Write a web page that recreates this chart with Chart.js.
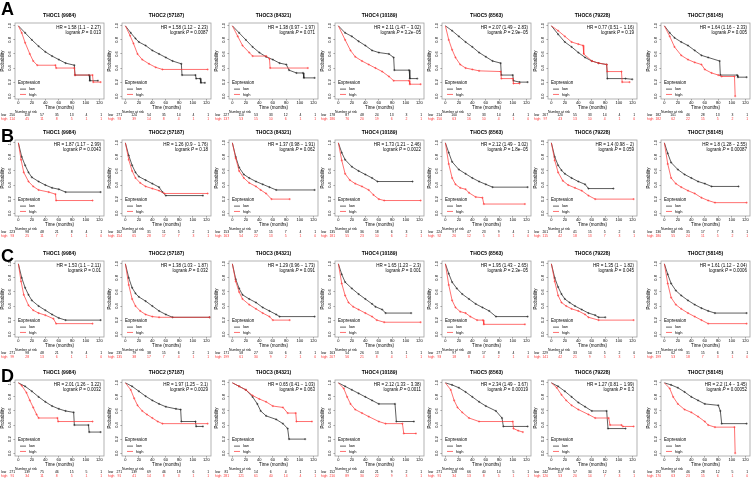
<!DOCTYPE html>
<html>
<head>
<meta charset="utf-8">
<script src="https://cdn.jsdelivr.net/npm/chart.js@4.4.1/dist/chart.umd.min.js"></script>
<style>
  body { margin: 0; background: #fff; }
  #fig { position: relative; width: 753px; height: 483px; overflow: hidden; background: #fff;
         font-family: "Liberation Sans", Arial, sans-serif; }
  #fig canvas { position: absolute; }
  .letter { position: absolute; font-weight: bold; font-size: 18px; line-height: 18px; z-index: 2; }
</style>
</head>
<body>
<div id="fig"></div>
<script>
// Kaplan-Meier grid: 4 rows (A-D) x 7 genes (THOC1..THOC7)

const FONT = '"Liberation Sans", Arial, sans-serif';

const titles = ['THOC1 (9984)', 'THOC2 (57187)', 'THOC3 (84321)', 'THOC4 (10189)',
                'THOC5 (8563)', 'THOC6 (79228)', 'THOC7 (58145)'];
const xTicks = [0, 20, 40, 60, 80, 100, 120];
const yTicks = [0, 0.2, 0.4, 0.6, 0.8, 1];

// ---- row A ----
const hrA = ['HR = 1.58 (1.1 − 2.27)', 'HR = 1.58 (1.12 − 2.23)', 'HR = 1.38 (0.97 − 1.97)', 'HR = 2.11 (1.47 − 3.02)',
             'HR = 2.07 (1.49 − 2.83)', 'HR = 0.77 (0.51 − 1.16)', 'HR = 1.64 (1.16 − 2.33)'];
const pA = ['0.013', '0.0087', '0.071', '3.2e−05', '2.9e−05', '0.19', '0.005'];
const lowA = [
  [[0,1],[10,0.9],[20,0.8],[30,0.71],[40,0.63],[50,0.57],[60,0.52],[70,0.47],[83,0.44],[84,0.3],[105,0.3],[106,0.22],[118,0.22]],
  [[0,1],[8,0.9],[15,0.82],[20,0.77],[30,0.72],[40,0.65],[50,0.6],[60,0.55],[70,0.5],[83,0.46],[84,0.3],[104,0.3],[105,0.25],[111,0.25],[112,0.19],[118,0.19]],
  [[0,1],[10,0.9],[20,0.8],[30,0.7],[40,0.62],[50,0.56],[60,0.52],[70,0.47],[80,0.45],[84,0.37],[95,0.33],[105,0.33],[106,0.26],[122,0.26]],
  [[0,1],[10,0.9],[20,0.85],[30,0.78],[40,0.72],[50,0.65],[60,0.62],[75,0.6],[82,0.55],[83,0.37],[105,0.37],[106,0.25],[117,0.25]],
  [[0,1],[10,0.93],[20,0.85],[30,0.77],[40,0.7],[50,0.62],[60,0.56],[70,0.5],[82,0.47],[83,0.3],[100,0.3],[101,0.22],[110,0.2],[122,0.2]],
  [[0,1],[10,0.88],[20,0.77],[30,0.7],[40,0.62],[50,0.55],[60,0.5],[70,0.47],[82,0.45],[83,0.25],[110,0.25],[120,0.24]],
  [[0,1],[8,0.9],[15,0.83],[25,0.77],[35,0.72],[45,0.65],[55,0.58],[65,0.55],[82,0.5],[83,0.3],[108,0.3],[109,0.27],[122,0.27]]
];
const highA = [
  [[0,1],[5,0.9],[10,0.76],[17,0.6],[22,0.5],[28,0.44],[55,0.44],[56,0.4],[83,0.4],[84,0.3],[110,0.3],[111,0.2],[122,0.2]],
  [[0,1],[7,0.86],[12,0.75],[18,0.6],[25,0.52],[35,0.46],[45,0.41],[55,0.38],[122,0.38]],
  [[0,1],[8,0.85],[15,0.72],[25,0.62],[30,0.57],[50,0.57],[55,0.53],[56,0.4],[112,0.4]],
  [[0,1],[10,0.8],[18,0.65],[25,0.56],[35,0.5],[45,0.45],[55,0.4],[65,0.35],[75,0.28],[82,0.22],[105,0.22],[106,0.17],[122,0.17]],
  [[0,1],[5,0.8],[10,0.66],[15,0.55],[22,0.45],[30,0.4],[40,0.38],[50,0.36],[82,0.35],[83,0.25],[100,0.25],[101,0.18],[110,0.18]],
  [[0,1],[10,0.93],[20,0.85],[30,0.77],[40,0.74],[47,0.72],[48,0.6],[60,0.5],[70,0.47],[82,0.45],[83,0.35],[104,0.35],[105,0.2],[116,0.2]],
  [[0,1],[8,0.85],[15,0.7],[25,0.58],[35,0.52],[45,0.48],[55,0.45],[60,0.38],[70,0.33],[80,0.3],[85,0.28],[104,0.28],[105,0]]
];
const riskLowA = [[250,118,57,35,13,4,1],[271,124,54,35,14,4,1],[227,110,53,33,12,4,1],[178,87,48,24,13,3,1],
                  [214,100,52,33,14,4,1],[267,120,55,33,14,4,1],[182,101,46,28,13,3,1]];
const riskHighA = [[114,45,11,8,5,1,1],[93,39,14,8,4,1,1],[137,53,15,10,6,1,1],[186,76,20,19,6,2,1],
                   [150,63,16,10,4,1,0],[97,43,13,10,4,1,0],[182,62,22,15,5,2,1]];

// ---- row B ----
const hrB = ['HR = 1.87 (1.17 − 2.99)', 'HR = 1.26 (0.9 − 1.76)', 'HR = 1.37 (0.98 − 1.91)', 'HR = 1.73 (1.21 − 2.46)',
             'HR = 2.12 (1.49 − 3.02)', 'HR = 1.4 (0.98 − 2)', 'HR = 1.8 (1.28 − 2.55)'];
const pB = ['0.0043', '0.18', '0.062', '0.0022', '1.8e−05', '0.059', '0.00087'];
const lowB = [
  [[0,1],[5,0.8],[10,0.68],[15,0.58],[20,0.51],[30,0.45],[40,0.4],[50,0.36],[60,0.34],[70,0.3],[122,0.3]],
  [[0,1],[5,0.82],[10,0.68],[15,0.58],[20,0.52],[30,0.47],[40,0.42],[50,0.37],[55,0.3],[60,0.25],[115,0.25]],
  [[0,1],[5,0.8],[10,0.65],[17,0.55],[25,0.5],[35,0.45],[45,0.41],[55,0.37],[65,0.33],[122,0.33]],
  [[0,1],[5,0.86],[10,0.76],[20,0.66],[30,0.6],[40,0.55],[50,0.5],[58,0.45],[110,0.45]],
  [[0,1],[5,0.86],[10,0.73],[20,0.62],[30,0.56],[40,0.5],[50,0.45],[60,0.41],[70,0.37],[122,0.37]],
  [[0,1],[5,0.8],[10,0.68],[15,0.61],[20,0.56],[30,0.5],[40,0.45],[50,0.41],[55,0.35],[92,0.35]],
  [[0,1],[5,0.85],[10,0.72],[20,0.62],[30,0.55],[40,0.5],[50,0.45],[60,0.42],[70,0.38],[110,0.38]]
];
const highB = [
  [[0,1],[4,0.76],[8,0.58],[15,0.45],[22,0.38],[30,0.33],[45,0.3],[55,0.27],[56,0.18],[110,0.18]],
  [[0,1],[5,0.76],[10,0.6],[15,0.5],[22,0.43],[30,0.38],[40,0.35],[50,0.32],[58,0.28],[122,0.28]],
  [[0,1],[5,0.78],[10,0.6],[17,0.5],[25,0.43],[35,0.38],[42,0.33],[50,0.28],[58,0.2],[85,0.2]],
  [[0,1],[5,0.75],[10,0.56],[17,0.47],[25,0.42],[35,0.38],[45,0.33],[52,0.26],[60,0.2],[68,0.18],[122,0.18]],
  [[0,1],[5,0.7],[10,0.5],[15,0.41],[22,0.36],[30,0.34],[35,0.29],[45,0.23],[55,0.22],[57,0.13],[118,0.13]],
  [[0,1],[5,0.75],[10,0.58],[17,0.46],[25,0.4],[35,0.36],[45,0.32],[55,0.25],[65,0.2],[122,0.2]],
  [[0,1],[5,0.7],[10,0.5],[17,0.42],[25,0.37],[35,0.32],[45,0.28],[55,0.22],[65,0.18],[75,0.15],[122,0.15]]
];
const riskLowB = [[223,98,48,21,8,4,1],[162,58,31,11,5,2,1],[153,69,37,15,7,4,1],[135,68,36,18,6,3,1],
                  [224,97,47,23,9,4,1],[201,81,41,15,5,2,0],[136,68,35,17,7,3,1]];
const riskHighB = [[93,25,11,7,1,1,0],[154,65,28,17,7,3,1],[163,54,22,13,5,1,0],[181,55,23,10,6,2,1],
                   [92,26,12,5,3,1,0],[115,42,18,13,7,3,1],[180,55,24,11,5,2,1]];

// ---- row C ----
const hrC = ['HR = 1.53 (1.1 − 2.11)', 'HR = 1.38 (1.03 − 1.87)', 'HR = 1.29 (0.96 − 1.73)', 'HR = 1.65 (1.23 − 2.3)',
             'HR = 1.95 (1.43 − 2.65)', 'HR = 1.35 (1 − 1.82)', 'HR = 1.61 (1.12 − 2.04)'];
const pC = ['0.01', '0.032', '0.091', '0.001', '2.3e−05', '0.045', '0.0006'];
const lowC = [
  [[0,1],[5,0.8],[10,0.66],[15,0.56],[20,0.48],[30,0.4],[40,0.34],[50,0.28],[60,0.23],[70,0.2],[122,0.2]],
  [[0,1],[5,0.8],[10,0.66],[15,0.58],[20,0.53],[30,0.47],[40,0.4],[50,0.33],[60,0.28],[70,0.24],[125,0.24]],
  [[0,1],[5,0.78],[10,0.65],[15,0.56],[25,0.5],[35,0.45],[45,0.38],[55,0.33],[65,0.28],[70,0.25],[122,0.25]],
  [[0,1],[5,0.85],[10,0.74],[20,0.65],[30,0.57],[40,0.5],[50,0.43],[55,0.39],[65,0.35],[70,0.3],[108,0.3]],
  [[0,1],[5,0.86],[10,0.74],[17,0.65],[25,0.57],[35,0.5],[45,0.43],[55,0.38],[65,0.33],[75,0.25],[122,0.25]],
  [[0,1],[5,0.8],[10,0.67],[15,0.57],[20,0.5],[27,0.45],[35,0.4],[45,0.35],[55,0.3],[65,0.27],[70,0.24],[80,0.24]],
  [[0,1],[5,0.85],[10,0.72],[17,0.62],[25,0.55],[35,0.48],[45,0.42],[55,0.37],[65,0.33],[75,0.3],[122,0.3]]
];
const highC = [
  [[0,1],[4,0.75],[8,0.56],[15,0.41],[22,0.34],[30,0.3],[40,0.27],[52,0.22],[56,0.15],[110,0.15]],
  [[0,1],[5,0.7],[10,0.5],[15,0.4],[22,0.33],[30,0.28],[40,0.25],[50,0.24],[125,0.24]],
  [[0,1],[5,0.75],[10,0.6],[15,0.5],[25,0.42],[35,0.36],[45,0.3],[55,0.25],[60,0.2],[85,0.2]],
  [[0,1],[5,0.72],[10,0.55],[15,0.45],[22,0.39],[30,0.35],[40,0.3],[50,0.25],[57,0.2],[68,0.17],[122,0.17]],
  [[0,1],[5,0.7],[10,0.48],[15,0.38],[22,0.32],[30,0.3],[37,0.25],[47,0.2],[56,0.2],[57,0.14],[118,0.14]],
  [[0,1],[5,0.75],[10,0.55],[15,0.45],[22,0.4],[30,0.36],[40,0.33],[50,0.28],[55,0.24],[70,0.2],[122,0.2]],
  [[0,1],[5,0.72],[10,0.52],[17,0.42],[25,0.36],[35,0.3],[45,0.25],[55,0.2],[65,0.15],[122,0.15]]
];
const riskLowC = [[271,98,48,21,9,4,1],[235,79,38,15,6,2,1],[171,58,27,10,6,3,1],[163,54,26,13,5,1,1],
                  [277,97,48,17,8,4,1],[229,73,33,14,5,2,0],[171,62,31,15,6,3,1]];
const riskHighC = [[99,28,13,6,1,1,0],[135,38,17,7,4,1,1],[199,61,30,9,2,1,0],[207,56,21,8,4,1,1],
                   [93,18,8,4,2,1,0],[141,42,21,9,5,3,1],[199,53,18,7,3,1,0]];

// ---- row D ----
const hrD = ['HR = 2.01 (1.26 − 3.22)', 'HR = 1.97 (1.25 − 3.1)', 'HR = 0.65 (0.41 − 1.03)', 'HR = 2.12 (1.33 − 3.38)',
             'HR = 2.34 (1.49 − 3.67)', 'HR = 1.27 (0.81 − 1.99)', 'HR = 2.2 (1.4 − 3.45)'];
const pD = ['0.0032', '0.0029', '0.063', '0.0011', '0.00019', '0.3', '0.00052'];
const lowD = [
  [[0,1],[10,0.95],[20,0.88],[30,0.8],[40,0.73],[50,0.67],[60,0.63],[70,0.6],[82,0.58],[83,0.4],[104,0.4],[105,0.3],[122,0.3]],
  [[0,1],[10,0.95],[20,0.88],[30,0.81],[40,0.75],[50,0.7],[60,0.66],[75,0.63],[82,0.62],[83,0.45],[104,0.45],[105,0.38],[115,0.38]],
  [[0,1],[10,0.95],[20,0.9],[30,0.8],[37,0.7],[42,0.6],[50,0.53],[65,0.48],[75,0.42],[82,0.35],[84,0.2],[108,0.2]],
  [[0,1],[10,0.95],[20,0.9],[30,0.85],[40,0.8],[50,0.75],[60,0.7],[84,0.7],[86,0.45],[112,0.45]],
  [[0,1],[10,0.97],[20,0.93],[30,0.87],[40,0.8],[50,0.73],[60,0.67],[75,0.6],[84,0.5],[86,0.38],[122,0.38]],
  [[0,1],[10,0.95],[20,0.88],[30,0.8],[40,0.72],[50,0.66],[60,0.6],[82,0.6],[84,0.35],[110,0.35]],
  [[0,1],[10,0.97],[20,0.93],[30,0.87],[40,0.8],[50,0.75],[60,0.7],[80,0.68],[83,0.6],[85,0.42],[122,0.42]]
];
const highD = [
  [[0,1],[5,0.96],[12,0.86],[17,0.75],[22,0.65],[27,0.55],[30,0.5],[58,0.5],[59,0.45],[110,0.45]],
  [[0,1],[8,0.9],[13,0.78],[18,0.68],[25,0.6],[32,0.55],[40,0.5],[48,0.45],[55,0.42],[122,0.42]],
  [[0,1],[10,0.95],[20,0.9],[30,0.82],[40,0.77],[50,0.73],[60,0.67],[75,0.65],[82,0.57],[94,0.57],[95,0.45],[118,0.45]],
  [[0,1],[8,0.92],[13,0.8],[18,0.7],[25,0.62],[35,0.57],[45,0.52],[60,0.45],[70,0.42],[95,0.42],[97,0.28],[115,0.28]],
  [[0,1],[8,0.9],[13,0.75],[18,0.65],[25,0.58],[35,0.5],[50,0.45],[100,0.45],[101,0.35],[108,0.32],[115,0.3]],
  [[0,1],[8,0.93],[15,0.83],[22,0.75],[30,0.68],[40,0.62],[55,0.55],[65,0.5],[85,0.5],[87,0.4],[104,0.4],[106,0.38],[122,0.38]],
  [[0,1],[8,0.92],[13,0.8],[20,0.7],[30,0.62],[40,0.58],[50,0.52],[60,0.45],[65,0.4],[75,0.37],[104,0.37],[105,0]]
];
const riskLowD = [[271,139,75,46,15,5,1],[271,139,69,46,18,6,1],[81,32,14,6,4,1,1],[152,72,44,21,9,2,1],
                  [271,128,66,40,14,5,1],[242,117,57,34,12,3,0],[192,99,46,28,12,5,1]];
const riskHighD = [[91,34,11,8,5,1,1],[91,41,14,8,3,1,1],[281,121,61,40,14,4,1],[210,89,30,22,9,3,1],
                   [91,34,13,8,5,1,1],[120,53,20,14,7,3,1],[170,63,23,15,6,1,0]];

// layout of the grid
const rowTops = [1, 118, 239, 358];
const letterTops = [0, 127, 247, 367];
const boxLefts = [15, 122, 229, 335, 442, 548, 661];
const CW = 107, CH = 112;

const rows = [
  { letter: 'A', hr: hrA, p: pA, low: lowA, high: highA, rl: riskLowA, rh: riskHighA },
  { letter: 'B', hr: hrB, p: pB, low: lowB, high: highB, rl: riskLowB, rh: riskHighB },
  { letter: 'C', hr: hrC, p: pC, low: lowC, high: highC, rl: riskLowC, rh: riskHighC },
  { letter: 'D', hr: hrD, p: pD, low: lowD, high: highD, rl: riskLowD, rh: riskHighD },
];

const RED = '#ff3333';
const INK = '#1a1a1a';

// box, title, HR text, x title, legend and number-at-risk table
const kmDecor = {
  id: 'kmDecor',
  afterDraw(chart, args, o) {
    const { ctx, chartArea: a, scales: { x } } = chart;
    const h = a.bottom - a.top;
    ctx.save();
    ctx.strokeStyle = '#a0a0a0';
    ctx.lineWidth = 0.8;
    ctx.strokeRect(a.left, a.top, a.right - a.left, h);

    ctx.fillStyle = '#000';
    ctx.textBaseline = 'middle';
    ctx.font = `bold 5px ${FONT}`;
    ctx.textAlign = 'center';
    ctx.fillText(o.title, (a.left + a.right) / 2, a.top - 7);

    // HR / logrank P (P in italics)
    ctx.font = `4.5px ${FONT}`;
    ctx.textAlign = 'right';
    ctx.fillText(o.hr, a.right - 3, a.top + 5);
    const pre = 'logrank ', post = ' = ' + o.p;
    const wPre = ctx.measureText(pre).width, wPost = ctx.measureText(post).width;
    ctx.font = `italic 4.5px ${FONT}`;
    const wP = ctx.measureText('P').width;
    ctx.textAlign = 'left';
    const px = a.right - 3 - wPre - wP - wPost;
    ctx.font = `4.5px ${FONT}`;
    ctx.fillText(pre, px, a.top + 10);
    ctx.font = `italic 4.5px ${FONT}`;
    ctx.fillText('P', px + wPre, a.top + 10);
    ctx.font = `4.5px ${FONT}`;
    ctx.fillText(post, px + wPre + wP, a.top + 10);

    // legend
    ctx.fillText('Expression', a.left + 3, a.top + 0.78 * h);
    ctx.font = `4px ${FONT}`;
    [['low', INK, 0.87], ['high', RED, 0.94]].forEach(([lab, col, f]) => {
      const yy = a.top + f * h;
      ctx.strokeStyle = col;
      ctx.lineWidth = 0.7;
      ctx.beginPath();
      ctx.moveTo(a.left + 5, yy);
      ctx.lineTo(a.left + 11, yy);
      ctx.stroke();
      ctx.fillStyle = '#000';
      ctx.fillText(lab, a.left + 14, yy);
    });

    // x axis title
    ctx.font = `4.5px ${FONT}`;
    ctx.textAlign = 'center';
    ctx.fillText('Time (months)', (a.left + a.right) / 2, a.bottom + 9);

    // number at risk
    ctx.textAlign = 'left';
    ctx.font = `3.4px ${FONT}`;
    ctx.fillStyle = '#000';
    ctx.fillText('Number at risk', a.left, a.bottom + 13.2);
    ctx.fillText('low', 1, a.bottom + 16.4);
    ctx.fillStyle = RED;
    ctx.fillText('high', 1, a.bottom + 19.7);
    ctx.textAlign = 'center';
    xTicks.forEach((t, k) => {
      const xx = x.getPixelForValue(-9 + t * 1.1);
      ctx.fillStyle = '#000';
      ctx.fillText(String(o.rl[k]), xx, a.bottom + 16.4);
      ctx.fillStyle = RED;
      ctx.fillText(String(o.rh[k]), xx, a.bottom + 19.7);
    });
    ctx.restore();
  }
};

function curve(data, color) {
  return {
    data: data,
    borderColor: color,
    borderWidth: 0.7,
    tension: 0,
    fill: false,
    pointStyle: 'cross',
    pointRadius: c => (c.dataIndex === 0 ? 0 : 1.1),
    pointBorderColor: color,
    pointBorderWidth: 0.5,
  };
}

const axisGrid = { drawOnChartArea: false, drawTicks: true, tickLength: 1.5, color: '#555', lineWidth: 0.6 };

const fig = document.getElementById('fig');

rows.forEach((row, r) => {
  const letter = document.createElement('div');
  letter.className = 'letter';
  letter.style.left = '1px';
  letter.style.top = letterTops[r] + 'px';
  letter.textContent = row.letter;
  fig.appendChild(letter);

  titles.forEach((title, c) => {
    const cv = document.createElement('canvas');
    cv.width = CW;
    cv.height = CH;
    cv.style.left = (boxLefts[c] - 15) + 'px';
    cv.style.top = (rowTops[r] + 10) + 'px';
    fig.appendChild(cv);

    new Chart(cv, {
      type: 'line',
      data: { datasets: [curve(row.high[c], RED), curve(row.low[c], INK)] },
      plugins: [kmDecor],
      options: {
        responsive: false,
        animation: false,
        devicePixelRatio: 1,
        events: [],
        layout: { autoPadding: false, padding: { top: 12, right: 3, bottom: 14, left: 0 } },
        plugins: {
          legend: { display: false },
          tooltip: { enabled: false },
          kmDecor: { title: title, hr: row.hr[c], p: row.p[c], rl: row.rl[c], rh: row.rh[c] },
        },
        scales: {
          x: {
            type: 'linear',
            min: -5, max: 127,
            afterBuildTicks: s => { s.ticks = xTicks.map(v => ({ value: v })); },
            afterFit: s => { s.height = 10; },
            ticks: { font: { family: FONT, size: 4 }, color: '#000', padding: 0,
                     maxRotation: 0, autoSkip: false, callback: v => String(v) },
            grid: axisGrid,
            border: { display: false },
          },
          y: {
            min: -0.04, max: 1.04,
            afterBuildTicks: s => { s.ticks = yTicks.map(v => ({ value: v })); },
            afterFit: s => { s.width = 15; },
            ticks: { font: { family: FONT, size: 4 }, color: '#000', padding: 0.5,
                     minRotation: 90, maxRotation: 90, crossAlign: 'center', autoSkip: false,
                     callback: v => v.toFixed(1) },
            grid: axisGrid,
            border: { display: false },
            title: { display: true, text: 'Probability', font: { family: FONT, size: 4.5 },
                     color: '#000', padding: 0 },
          },
        },
      },
    });
  });
});
</script>
</body>
</html>
